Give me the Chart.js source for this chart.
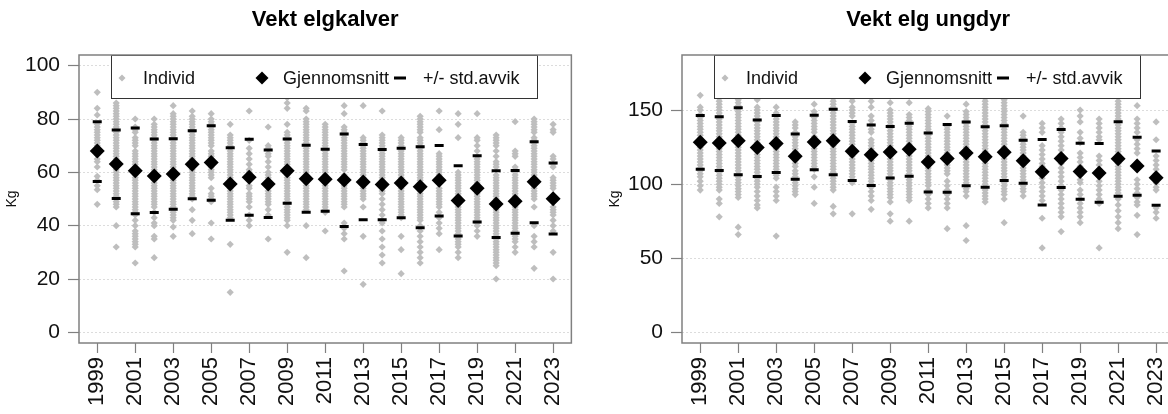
<!DOCTYPE html>
<html>
<head>
<meta charset="utf-8">
<script src="https://cdn.jsdelivr.net/npm/chart.js@4/dist/chart.umd.min.js"></script>
<style>
  body { margin: 0; background: #fff; overflow: hidden; }
  #wrap { position: relative; width: 1168px; height: 414px; overflow: hidden; }
  canvas { position: absolute; top: 0; }
  #kalv { left: 0; }
  #ungdyr { left: 603px; }
</style>
</head>
<body>
<div id="wrap">
  <canvas id="kalv" width="584" height="414"></canvas>
  <canvas id="ungdyr" width="584" height="414"></canvas>
</div>
<script>
const years = [1999, 2000, 2001, 2002, 2003, 2004, 2005, 2006, 2007, 2008, 2009, 2010, 2011,
  2012, 2013, 2014, 2015, 2016, 2017, 2018, 2019, 2020, 2021, 2022, 2023];
const xTicks = [1999, 2001, 2003, 2005, 2007, 2009, 2011, 2013, 2015, 2017, 2019, 2021, 2023];
const kalvYTicks = [0, 20, 40, 60, 80, 100];
const ungYTicks = [0, 50, 100, 150];

// elgkalver
const kalvMean = [68.0, 63.1, 60.6, 58.6, 59.4, 63.0, 63.7, 55.6, 58.2, 55.6, 60.6, 57.6, 57.4,
  57.1, 56.4, 55.4, 56.0, 54.6, 57.0, 49.4, 54.0, 48.1, 49.2, 56.5, 50.1];
const kalvUpper = [79.0, 75.9, 76.6, 72.5, 72.6, 75.6, 77.5, 69.2, 72.4, 68.4, 72.5, 70.2, 68.7,
  74.4, 70.4, 68.6, 69.0, 69.6, 70.1, 62.5, 66.2, 60.6, 60.7, 71.5, 63.5];
const kalvLower = [56.6, 50.2, 44.5, 44.9, 46.2, 50.1, 49.5, 42.0, 43.9, 43.1, 48.4, 45.0, 45.4,
  39.7, 42.2, 42.2, 43.0, 39.2, 43.6, 36.1, 41.4, 35.6, 37.2, 41.1, 36.9];
const kalvIndivid = [
  [90, 84, 81.5, 78, 77, 76, 75, 74, 73, 72, 71, 70, 69, 68, 66.5, 65, 64, 62, 58.5, 57, 55, 53.5, 48],
  [86, 85, 84, 83, 82, 81, 80, 79, 78, 77, 76, 75, 74, 73, 72, 71, 70, 69, 68, 67, 66, 65, 64, 63, 62,
    61, 60, 59, 58, 57, 56, 55, 54, 53, 52, 51, 50, 49, 48, 47, 40, 32],
  [80, 77, 76, 75, 73, 72, 71, 70, 68, 67, 66, 65, 64, 63, 62, 61, 60, 59, 58, 57, 56, 55, 54, 53, 52,
    51, 50, 49, 48, 47, 46, 45, 44, 42, 40, 38, 37, 36, 35, 34, 33, 32, 26],
  [80, 78, 77, 76, 75, 74, 73, 72, 71, 70, 69, 68, 67, 66, 65, 64, 63, 62, 61, 60, 59, 58, 57, 56, 55,
    54, 53, 52, 51, 50, 49, 48, 47, 45, 43, 41, 40, 36, 35, 28],
  [85, 82, 81, 80, 79, 78, 77, 76, 75, 74, 73, 72, 71, 70, 69, 68, 67, 66, 65, 64, 63, 62, 61, 60, 59,
    58, 57, 56, 55, 54, 53, 52, 51, 50, 49, 48, 47, 46, 45, 44, 43, 42, 39.5, 36],
  [83, 81, 80, 79, 78, 77, 76, 75, 74, 73, 72, 71, 70, 69, 68, 67, 66, 65, 64, 63, 62, 61, 60, 59, 58,
    57, 56, 55, 54, 53, 52, 51, 50, 46, 42, 37],
  [82, 80, 79, 78, 77, 76, 75, 74, 73, 72, 71, 70, 68, 67, 66, 65, 64, 63, 62, 61, 60, 59, 58, 54, 52,
    51, 50, 49, 41, 35],
  [78, 74, 73, 72, 71, 70, 69, 68, 67, 66, 65, 64, 63, 62, 61, 60, 59, 58, 57, 56, 55, 54, 53, 52, 51,
    50, 49, 48, 47, 46, 45, 44, 43, 33, 15],
  [83, 72, 69, 67, 65, 63, 61, 60, 58, 57, 55, 54, 52, 51, 50, 49, 47, 44, 42, 40],
  [77, 70, 69, 67, 66, 64, 62, 60, 59, 58, 56, 55, 53, 52, 51, 50, 49, 48, 46, 44, 35],
  [88, 86, 84, 78, 75, 74, 73, 72, 71, 70, 69, 68, 67, 66, 65, 64, 63, 62, 61, 60, 59, 58, 57, 56, 55,
    54, 53, 52, 51, 50, 49, 48, 47, 46, 45, 44, 43, 42, 40, 30],
  [84, 83, 80, 79, 78, 77, 76, 75, 74, 73, 72, 71, 70, 69, 68, 67, 66, 65, 64, 63, 62, 61, 60, 59, 58,
    57, 56, 55, 54, 53, 52, 51, 50, 49, 48, 47, 46, 40, 28],
  [78, 77, 76, 75, 74, 73, 72, 71, 70, 69, 68, 67, 66, 65, 64, 63, 62, 61, 60, 59, 58, 57, 56, 55, 54,
    53, 52, 51, 50, 49, 48, 47, 46, 45, 38],
  [85, 82, 77, 76, 75, 74, 73, 72, 71, 70, 69, 68, 67, 66, 65, 64, 63, 62, 61, 59, 58, 57, 56, 55, 54,
    53, 52, 51, 50, 49, 48, 47, 41, 39, 37, 35, 23],
  [85, 73, 72, 71, 70, 69, 68, 67, 66, 65, 64, 63, 62, 61, 60, 59, 58, 57, 56, 55, 54, 53, 52, 51, 50,
    47, 36, 18],
  [83, 74, 73, 72, 71, 70, 69, 68, 67, 66, 65, 64, 63, 62, 61, 60, 59, 58, 57, 56, 55, 54, 53, 52, 50,
    48, 46, 44, 42, 41, 38, 35, 32, 29, 26],
  [73, 72, 71, 70, 69, 68, 67, 66, 65, 64, 63, 62, 61, 60, 59, 58, 56, 55, 54, 53, 52, 51, 50, 49, 48,
    47, 46, 45, 44, 43, 36, 31, 22],
  [81, 80, 79, 78, 77, 76, 75, 73, 72, 71, 70, 69, 68, 67, 66, 65, 64, 63, 62, 61, 60, 59, 58, 57, 56,
    55, 54, 53, 52, 51, 50, 49, 48, 47, 46, 45, 44, 43, 42, 40, 38, 36, 34, 32, 30, 28, 26],
  [83, 76, 67, 66, 65, 64, 63, 62, 61, 60, 59, 58, 54, 53, 52, 51, 50, 49, 48, 47, 45, 43, 41, 39, 37, 31],
  [82, 78, 73, 60, 59, 58, 57, 56, 55, 54, 53, 52, 51, 50, 49, 48, 47, 46, 45, 44, 43, 42, 41, 40, 39,
    38, 37, 36, 35, 34, 33, 32, 30, 28],
  [82, 73, 72, 70, 68, 66, 65, 64, 63, 62, 61, 60, 59, 58, 57, 56, 55, 54, 53, 52, 51, 50, 49, 48, 47,
    46, 45, 44, 43, 42, 41, 40, 38, 36],
  [74, 73, 72, 71, 70, 68, 66, 64, 63, 62, 59, 58, 57, 56, 55, 54, 53, 52, 51, 50, 49, 48, 47, 46, 45,
    44, 43, 42, 41, 40, 39, 38, 37, 36, 35, 34, 33, 32, 31, 30, 29, 28, 27, 26, 25, 20],
  [79, 68, 67, 66, 62, 61, 60, 59, 58, 57, 56, 55, 54, 53, 52, 51, 50, 49, 48, 47, 46, 45, 44, 43, 42,
    41, 40, 39, 38, 37, 36, 35, 34, 32, 30],
  [80, 79, 78, 77, 76, 75, 73, 72, 71, 70, 69, 68, 67, 66, 65, 64, 63, 62, 61, 60, 59, 58, 57, 56, 55,
    54, 53, 52, 51, 50, 47, 40, 36, 34, 32, 24],
  [78, 76, 75, 66, 65, 63, 62, 58, 57, 56, 55, 54, 47, 46, 45, 44, 42, 40, 38, 30, 20]
];

// elg ungdyr
const ungMean = [128.3, 127.8, 129.4, 124.7, 127.4, 118.8, 128.5, 129.4, 122.2, 119.9, 121.7, 123.5, 114.9,
  117.4, 121.0, 118.6, 121.5, 115.8, 108.4, 117.4, 108.6, 107.5, 117.2, 112.2, 104.3];
const ungUpper = [146.4, 145.5, 151.6, 143.4, 146.4, 133.9, 146.6, 150.5, 142.3, 140.0, 138.9, 141.2, 134.6,
  140.3, 141.9, 138.7, 139.4, 129.6, 130.1, 136.9, 127.6, 127.4, 142.1, 131.7, 122.4];
const ungLower = [110.0, 109.3, 106.3, 105.2, 107.9, 103.4, 109.7, 106.3, 102.5, 99.1, 104.1, 105.4, 94.8,
  94.6, 98.9, 98.0, 102.5, 100.7, 86.0, 97.7, 89.8, 87.8, 91.9, 92.5, 85.7];
const ungIndivid = [
  [160, 152, 150, 147, 145, 143, 141, 139, 137, 135, 133, 131, 127, 125, 123, 121, 119, 117, 115, 113,
    111, 109, 107, 105, 102, 99, 96],
  [162, 160, 158, 156, 154, 152, 150, 148, 146, 144, 142, 140, 138, 136, 134, 132, 130, 128, 126, 124,
    122, 120, 118, 116, 114, 112, 110, 108, 106, 104, 102, 100, 98, 96, 90, 87, 78],
  [163, 161, 159, 157, 155, 153, 151, 149, 147, 145, 143, 141, 139, 137, 135, 133, 131, 129, 127, 125,
    123, 121, 119, 117, 115, 113, 111, 109, 107, 105, 103, 101, 99, 97, 95, 93, 91, 71, 66],
  [157, 152, 150, 148, 146, 144, 142, 140, 138, 136, 134, 132, 130, 128, 126, 124, 122, 120, 118, 116,
    114, 112, 110, 108, 106, 104, 102, 100, 98, 95, 92, 89, 86, 84],
  [152, 148, 146, 144, 142, 140, 138, 136, 134, 132, 130, 128, 126, 124, 122, 120, 118, 116, 114, 112,
    110, 108, 106, 104, 98, 95, 92, 89, 65],
  [142, 140, 138, 135, 132, 130, 128, 126, 124, 122, 120, 118, 116, 114, 112, 109, 107, 105, 103, 101,
    99, 97, 95, 93],
  [154, 149, 147, 145, 143, 141, 139, 137, 135, 132, 130, 128, 126, 124, 122, 120, 118, 116, 114, 112,
    110, 105, 98, 87],
  [162, 160, 158, 156, 154, 152, 150, 148, 146, 144, 142, 140, 138, 136, 134, 132, 130, 128, 126, 124,
    122, 120, 118, 116, 114, 112, 110, 108, 106, 104, 102, 100, 98, 96, 85, 80],
  [158, 156, 152, 150, 148, 146, 141, 139, 137, 135, 133, 131, 129, 127, 125, 123, 121, 119, 117, 115,
    113, 111, 109, 107, 105, 103, 101, 80],
  [156, 152, 146, 143, 140, 137, 135, 130, 128, 126, 124, 122, 120, 118, 116, 114, 112, 110, 108, 106,
    104, 102, 100, 98, 95, 92, 89, 83],
  [155, 150, 148, 146, 144, 142, 140, 138, 136, 134, 132, 130, 128, 126, 124, 122, 119, 117, 115, 113,
    111, 109, 107, 105, 103, 101, 99, 97, 95, 93, 91, 88, 80, 75],
  [155, 147, 145, 143, 141, 139, 137, 135, 133, 131, 129, 127, 125, 123, 121, 119, 117, 115, 113, 111,
    109, 107, 105, 103, 101, 99, 97, 95, 93, 91, 89, 75],
  [151, 149, 147, 145, 143, 141, 139, 137, 135, 133, 131, 129, 127, 125, 123, 121, 119, 117, 115, 113,
    111, 109, 107, 105, 103, 101, 99, 96, 93, 90, 87, 84],
  [146, 139, 137, 135, 133, 131, 129, 127, 125, 123, 121, 119, 117, 115, 113, 111, 109, 107, 102, 99,
    96, 93, 90, 87, 84, 70],
  [154, 149, 147, 145, 143, 141, 139, 137, 135, 133, 131, 129, 127, 125, 123, 121, 119, 117, 115, 113,
    111, 109, 107, 105, 103, 101, 99, 97, 95, 92, 72, 62],
  [158, 156, 154, 152, 150, 148, 146, 144, 142, 140, 138, 136, 134, 132, 130, 128, 126, 124, 122, 120,
    118, 116, 114, 112, 110, 108, 106, 104, 102, 100, 98, 96, 94, 92, 90, 88],
  [157, 155, 153, 151, 149, 147, 145, 143, 141, 139, 137, 135, 133, 131, 129, 127, 125, 123, 121, 117,
    115, 113, 111, 109, 107, 105, 103, 101, 99, 97, 95, 93, 90, 74],
  [146, 135, 133, 131, 129, 127, 125, 123, 121, 119, 117, 115, 113, 111, 109, 107, 105, 103, 101, 99,
    97, 95, 92],
  [141, 138, 135, 126, 123, 120, 117, 114, 112, 107, 104, 101, 98, 95, 92, 89, 77, 57],
  [144, 141, 138, 135, 132, 129, 126, 123, 120, 117, 114, 111, 108, 105, 102, 99, 96, 93, 90, 87,
    84, 81, 78, 68],
  [150, 146, 142, 135, 131, 128, 121, 118, 115, 112, 109, 106, 103, 101, 96, 93, 90, 87, 84, 81, 78, 74],
  [144, 141, 138, 135, 132, 130, 119, 116, 113, 110, 105, 102, 99, 96, 93, 90, 87, 57],
  [156, 154, 152, 150, 148, 146, 144, 142, 140, 138, 136, 134, 132, 130, 128, 126, 124, 122, 120, 118,
    116, 114, 112, 110, 108, 106, 104, 102, 100, 98, 96, 94, 92, 90, 86, 82, 78, 74, 70],
  [153, 144, 141, 138, 135, 130, 127, 124, 121, 115, 112, 103, 100, 97, 94, 91, 88, 86, 79, 66],
  [142, 130, 119, 116, 113, 110, 107, 101, 98, 96, 84, 81, 77]
];

const FONT = "'Liberation Sans', Arial, sans-serif";
const GREY = '#bebebe';

function mappedPoints(xArray, yArray) {
  return yArray.map(function (value, index) {
    return { x: xArray[index], y: value };
  });
}

function individPoints(lists) {
  return lists.flatMap(function (list, index) {
    return list.map(function (value) {
      return { x: years[index], y: value };
    });
  });
}

// diamond path, half-diagonal r
function diamond(ctx, x, y, r) {
  ctx.beginPath();
  ctx.moveTo(x - r, y);
  ctx.lineTo(x, y - r);
  ctx.lineTo(x + r, y);
  ctx.lineTo(x, y + r);
  ctx.closePath();
  ctx.fill();
}

// plot frame plus the boxed legend at the top of the plot
const frameLegend = {
  id: 'frameLegend',
  afterDatasetsDraw(chart) {
    const ctx = chart.ctx;
    const a = chart.chartArea;
    const sets = chart.data.datasets;
    ctx.save();

    const lx = a.left + 32, ly = a.top, lw = 426, lh = 43;
    const ty = ly + 24;
    ctx.fillStyle = '#fff';
    ctx.fillRect(lx, ly, lw, lh);
    ctx.strokeStyle = '#333';
    ctx.lineWidth = 1;
    ctx.strokeRect(lx + 0.5, ly + 0.5, lw, lh);

    ctx.fillStyle = GREY;
    diamond(ctx, lx + 11, ty - 1, 3.5);
    ctx.fillStyle = '#000';
    diamond(ctx, lx + 151, ty - 1, 6.5);
    ctx.fillRect(lx + 283, ty - 2.5, 12, 3);

    ctx.font = '18px ' + FONT;
    ctx.textBaseline = 'middle';
    ctx.fillStyle = '#111';
    ctx.fillText(sets[2].label, lx + 32, ty);
    ctx.fillText(sets[1].label, lx + 172, ty);
    ctx.fillText(sets[0].label, lx + 312, ty);

    ctx.strokeStyle = '#808080';
    ctx.lineWidth = 1.5;
    ctx.strokeRect(a.left, a.top, a.right - a.left, a.bottom - a.top);
    ctx.restore();
  }
};

function makeChart(id, title, yMin, yMax, yTicks, individ, mean, lower, upper) {
  const ctx = document.getElementById(id).getContext('2d');
  return new Chart(ctx, {
    type: 'scatter',
    data: {
      datasets: [
        {
          label: '+/- std.avvik',
          data: mappedPoints(years, upper).concat(mappedPoints(years, lower)),
          pointStyle: 'line',
          pointRadius: 4.5,
          pointBorderWidth: 3,
          pointBorderColor: '#000'
        },
        {
          label: 'Gjennomsnitt',
          data: mappedPoints(years, mean),
          pointStyle: 'rectRot',
          pointRadius: 7.5,
          pointBorderWidth: 0,
          pointBackgroundColor: '#000'
        },
        {
          label: 'Individ',
          data: individPoints(individ),
          pointStyle: 'rectRot',
          pointRadius: 3.6,
          pointBorderWidth: 0,
          pointBackgroundColor: GREY
        }
      ]
    },
    options: {
      responsive: false,
      animation: false,
      devicePixelRatio: 1,
      layout: { padding: { left: 0, right: 12, top: 0, bottom: 0 } },
      plugins: {
        legend: { display: false },
        tooltip: { enabled: false },
        title: {
          display: true,
          text: title,
          fullSize: false,
          color: '#000',
          font: { family: FONT, size: 22, weight: 'bold' },
          padding: { top: 7, bottom: 21.6 }
        }
      },
      scales: {
        x: {
          type: 'linear',
          min: 1998.04,
          max: 2023.96,
          afterFit(scale) { scale.height = 71; },
          afterBuildTicks(scale) { scale.ticks = xTicks.map(v => ({ value: v })); },
          border: { display: false },
          grid: {
            drawOnChartArea: false,
            drawTicks: true,
            tickLength: 10,
            tickColor: '#808080',
            tickWidth: 1.2
          },
          ticks: {
            autoSkip: false,
            minRotation: 90,
            maxRotation: 90,
            padding: 4,
            color: '#111',
            font: { family: FONT, size: 22 },
            callback: v => String(v)
          }
        },
        y: {
          min: yMin,
          max: yMax,
          afterFit(scale) { scale.width = 79; },
          afterBuildTicks(scale) { scale.ticks = yTicks.map(v => ({ value: v })); },
          border: { display: false, dash: [2, 2] },
          grid: {
            color: '#dcdcdc',
            lineWidth: 1,
            tickLength: 11,
            tickColor: '#808080',
            tickWidth: 1.2
          },
          ticks: {
            padding: 8,
            color: '#111',
            font: { family: FONT, size: 21 }
          },
          title: {
            display: true,
            text: 'Kg',
            color: '#111',
            font: { family: FONT, size: 14 },
            padding: { top: 4, bottom: 0 }
          }
        }
      }
    },
    plugins: [frameLegend]
  });
}

makeChart('kalv', 'Vekt elgkalver', -4, 104, kalvYTicks, kalvIndivid, kalvMean, kalvLower, kalvUpper);
makeChart('ungdyr', 'Vekt elg ungdyr', -7.2, 187.2, ungYTicks, ungIndivid, ungMean, ungLower, ungUpper);
</script>
</body>
</html>
